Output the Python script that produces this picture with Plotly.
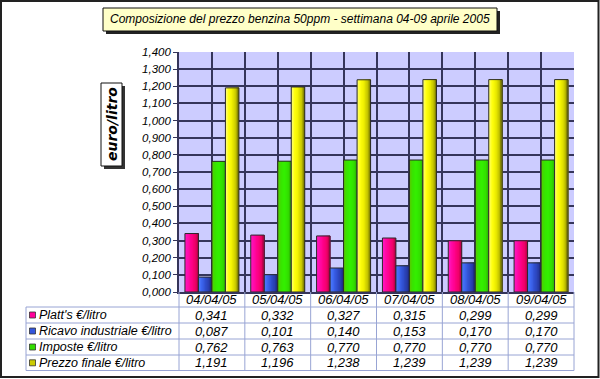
import plotly.graph_objects as go

# ---------------- data ----------------
dates = ["04/04/05", "05/04/05", "06/04/05", "07/04/05", "08/04/05", "09/04/05"]
series_names = ["Platt's €/litro", "Ricavo industriale €/litro", "Imposte €/litro", "Prezzo finale €/litro"]
platts = [0.341, 0.332, 0.327, 0.315, 0.299, 0.299]
ricavo = [0.087, 0.101, 0.140, 0.153, 0.170, 0.170]
imposte = [0.762, 0.763, 0.770, 0.770, 0.770, 0.770]
prezzo = [1.191, 1.196, 1.238, 1.239, 1.239, 1.239]
title_text = "Composizione del prezzo benzina 50ppm - settimana 04-09 aprile 2005"
y_title = "euro/litro"

series_values = [platts, ricavo, imposte, prezzo]
# gradient stops (left -> right) per series
grad_stops = [
    ["#ff19c8", "#ff0aa6", "#ff0088", "#f0006a", "#b80048"],
    ["#4f7cff", "#3d66ee", "#3050d0", "#2a3fb0", "#1c2a80"],
    ["#58c800", "#38e400", "#33f000", "#33e000", "#2cbc00"],
    ["#ffff80", "#ffff10", "#f0f000", "#c8c800", "#7a7a00"],
]
legend_colors = ["#ff0099", "#3355dd", "#33dd00", "#cccc00"]

W_PX, H_PX = 600, 379
L, R, T, B = 179, 574, 52, 292


def xp(px):
    return (px - L) / (R - L)


def yp(py):
    return (B - py) / (B - T)


def hex2rgb(h):
    h = h.lstrip("#")
    return tuple(int(h[i:i + 2], 16) for i in (0, 2, 4))


def interp(stops, t):
    n = len(stops) - 1
    pos = t * n
    i = min(int(pos), n - 1)
    f = pos - i
    a, b = hex2rgb(stops[i]), hex2rgb(stops[i + 1])
    c = [round(a[k] + (b[k] - a[k]) * f) for k in range(3)]
    return "rgb(%d,%d,%d)" % tuple(c)


fig = go.Figure()
xs = list(range(len(dates)))
group_w = 0.82
bar_w = group_w / 4
NSTRIP = 10

for s, vals in enumerate(series_values):
    base_off = -group_w / 2 + s * bar_w
    for k in range(NSTRIP):
        start = base_off + k * bar_w / NSTRIP
        fig.add_trace(go.Bar(
            x=xs, y=vals, offset=start, width=bar_w - k * bar_w / NSTRIP,
            marker=dict(color=interp(grad_stops[s], (k + 0.5) / NSTRIP), line=dict(width=0)),
            showlegend=False, hoverinfo="skip"))
    fig.add_trace(go.Bar(
        x=xs, y=vals, offset=base_off, width=bar_w, name=series_names[s],
        marker=dict(color="rgba(0,0,0,0)", line=dict(color="#2a2a2a", width=1)),
        showlegend=False))

GRID = "#35355a"
fig.update_layout(
    width=W_PX, height=H_PX,
    margin=dict(l=L, r=W_PX - R, t=T, b=H_PX - B, pad=0),
    paper_bgcolor="white", plot_bgcolor="#ccccff",
    barmode="overlay", separators=",.",
    font=dict(family="Liberation Sans", size=12, color="black"),
    xaxis=dict(range=[-0.5, len(dates) - 0.5], tick0=0, dtick=0.5, showticklabels=False,
               showgrid=True, gridcolor=GRID, gridwidth=1.6, zeroline=False,
               showline=True, linecolor=GRID, linewidth=1.6, ticks=""),
    yaxis=dict(range=[0, 1.4], dtick=0.1, tickformat=".3f", showgrid=True,
               gridcolor=GRID, gridwidth=1.6, zeroline=False,
               showline=True, linecolor=GRID, linewidth=1.6,
               ticks="outside", ticklen=4, tickcolor=GRID,
               tickfont=dict(family="Liberation Sans", size=11.5, style="italic", color="black")),
)

shapes = []
ann = []

# outer frame
shapes.append(dict(type="rect", xref="paper", yref="paper", x0=xp(1), x1=xp(598.5), y0=yp(1), y1=yp(377),
                   line=dict(color="#222222", width=2), fillcolor="rgba(0,0,0,0)"))

# title box with shadow
shapes.append(dict(type="rect", xref="paper", yref="paper", x0=xp(106), x1=xp(500), y0=yp(11), y1=yp(34),
                   line=dict(width=0), fillcolor="#222222"))
shapes.append(dict(type="rect", xref="paper", yref="paper", x0=xp(103), x1=xp(497), y0=yp(8), y1=yp(31),
                   line=dict(color="#111111", width=1), fillcolor="#ffffc8"))
ann.append(dict(text=title_text, xref="paper", yref="paper", x=xp(300), y=yp(19.5),
                showarrow=False, xanchor="center", yanchor="middle",
                font=dict(family="Liberation Sans", size=12, style="italic", color="black")))

# y title box with shadow
shapes.append(dict(type="rect", xref="paper", yref="paper", x0=xp(104), x1=xp(125), y0=yp(86), y1=yp(169),
                   line=dict(width=0), fillcolor="#333333"))
shapes.append(dict(type="rect", xref="paper", yref="paper", x0=xp(101), x1=xp(122), y0=yp(83), y1=yp(166),
                   line=dict(color="#111111", width=1), fillcolor="white"))
ann.append(dict(text="<b>" + y_title + "</b>", xref="paper", yref="paper", x=xp(111.5), y=yp(124.5),
                showarrow=False, textangle=-90, xanchor="center", yanchor="middle",
                font=dict(family="DejaVu Sans", size=14, style="italic", color="black")))

# table grid
tcol = "#98a4d4"
row_lines = [307, 323, 339, 355, 370.5]
for py in row_lines:
    shapes.append(dict(type="line", xref="paper", yref="paper", x0=xp(26), x1=xp(R), y0=yp(py), y1=yp(py),
                       line=dict(color=tcol, width=1)))
shapes.append(dict(type="line", xref="paper", yref="paper", x0=xp(26), x1=xp(26), y0=yp(307), y1=yp(370.5),
                   line=dict(color=tcol, width=1)))
n = len(dates)
for i in range(n + 1):
    shapes.append(dict(type="line", xref="paper", yref="paper", x0=i / n, x1=i / n, y0=0, y1=yp(370.5),
                       line=dict(color=tcol, width=1)))

# date labels
for i, d in enumerate(dates):
    ann.append(dict(text=d, xref="x", yref="paper", x=i, y=yp(299.5), showarrow=False,
                    xanchor="center", yanchor="middle",
                    font=dict(family="Liberation Sans", size=13, style="italic", color="black")))

row_centers = [315, 331, 347, 362.8]
for s, name in enumerate(series_names):
    cy = row_centers[s]
    shapes.append(dict(type="rect", xref="paper", yref="paper", x0=xp(29.5), x1=xp(35.5),
                       y0=yp(cy - 3), y1=yp(cy + 3), line=dict(color="#333333", width=0.8),
                       fillcolor=legend_colors[s]))
    ann.append(dict(text=name, xref="paper", yref="paper", x=xp(37), y=yp(cy), showarrow=False,
                    xanchor="left", yanchor="middle",
                    font=dict(family="Liberation Sans", size=12.5, style="italic", color="black")))
    for i, v in enumerate(series_values[s]):
        ann.append(dict(text=("%.3f" % v).replace(".", ","), xref="x", yref="paper", x=i, y=yp(cy),
                        showarrow=False, xanchor="center", yanchor="middle",
                        font=dict(family="Liberation Sans", size=13, style="italic", color="black")))

fig.update_layout(shapes=shapes, annotations=ann)
fig.write_html("out.html", config={"displayModeBar": False},
               post_script="document.body.style.margin='0';document.body.style.overflow='hidden';")
